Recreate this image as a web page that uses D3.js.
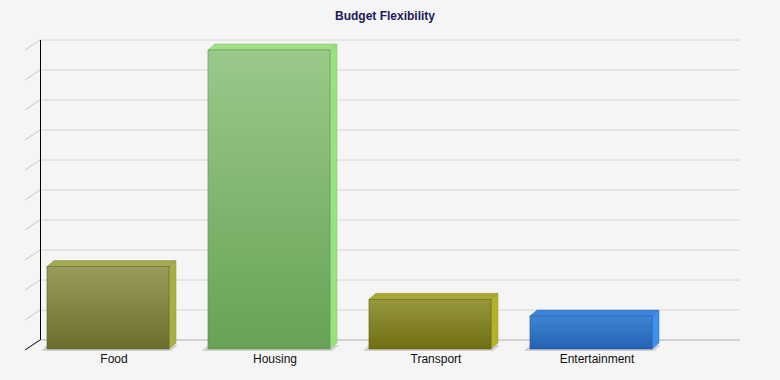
<!DOCTYPE html>
<html><head><meta charset="utf-8">
<script src="https://cdn.jsdelivr.net/npm/d3@7"></script>
<style>html,body{margin:0;padding:0;background:#f5f5f5;}svg{display:block;}</style>
</head><body>
<svg id="c" width="780" height="380"></svg>
<script>
const categories = ["Food", "Housing", "Transport", "Entertainment"];
const values = [27.8, 100, 16.9, 11.3];
const frontColors = [["#9a9c5e", "#6b6e2c"], ["#9bc98a", "#66a356"], ["#97973e", "#6f6e12"], ["#3d85d4", "#2462b3"]];
const sideColors = ["#a8b043", "#96e47f", "#b2b22c", "#3d8ff0"];
const topColors = ["#a2aa52", "#a0e084", "#a8a838", "#3a84de"];
const gridTicks = d3.range(0, 101, 10);
const title = "Budget Flexibility";

const svg = d3.select("#c");
const defs = svg.append("defs");
const dx = 15, dy = 10;       // wall depth
const bdx = 7, bdy = 6;       // bar depth
const x = d3.scaleBand().domain(categories).range([27.5, 671.5]).paddingInner(0.242).paddingOuter(0.121);
const y = d3.scaleLinear().domain([0, 100]).range([350, 50]);

svg.append("rect").attr("width", 780).attr("height", 380).attr("fill", "#f5f5f5");

svg.append("text").attr("x", 385).attr("y", 20).attr("text-anchor", "middle")
  .attr("font-family", "'Liberation Sans', Arial, sans-serif").attr("font-weight", "bold")
  .attr("font-size", 12).attr("fill", "#1c1a5c").text(title);

// gridlines on back wall
svg.append("g").selectAll("line").data(gridTicks.slice(1)).join("line")
  .attr("x1", 40).attr("x2", 740)
  .attr("y1", d => y(d) - dy).attr("y2", d => y(d) - dy)
  .attr("stroke", "#d6d6d6").attr("stroke-width", 1);
// floor back line
svg.append("line").attr("x1", 40).attr("x2", 740).attr("y1", y(0) - dy).attr("y2", y(0) - dy)
  .attr("stroke", "#b0b0b0");
// diagonal ticks on side wall
svg.append("g").selectAll("line").data(gridTicks.slice(1)).join("line")
  .attr("x1", 40 - dx).attr("y1", d => y(d)).attr("x2", 40).attr("y2", d => y(d) - dy)
  .attr("stroke", "#c8c8c8");
svg.append("line").attr("x1", 40 - dx).attr("y1", y(0)).attr("x2", 40).attr("y2", y(0) - dy)
  .attr("stroke", "#000");
// vertical axis line
svg.append("line").attr("x1", 40.5).attr("x2", 40.5).attr("y1", y(100) - dy).attr("y2", y(0) - dy)
  .attr("stroke", "#000");

categories.forEach((c, i) => {
  const g = defs.append("linearGradient").attr("id", "g" + i).attr("x1", 0).attr("y1", 0).attr("x2", 0).attr("y2", 1);
  g.append("stop").attr("offset", 0).attr("stop-color", frontColors[i][0]);
  g.append("stop").attr("offset", 1).attr("stop-color", frontColors[i][1]);
});

const bars = svg.append("g").selectAll("g").data(categories).join("g");
const bx = d => x(d), bw = x.bandwidth();
const base = y(0) - 1;
// shadow
bars.append("polygon").attr("fill", "#d2d2d2").attr("points", (d) => {
  const x0 = bx(d), x1 = x0 + bw;
  return [[x0 - 6, base + 2], [x1 + 2, base + 2], [x1 + bdx + 2, base - bdy + 2], [x0, base - bdy + 2]].map(p => p.join(",")).join(" ");
});
// side
bars.append("polygon").attr("fill", (d, i) => sideColors[i]).attr("stroke", (d, i) => d3.color(sideColors[i]).darker(0.4)).attr("stroke-width", 0.5)
  .attr("points", (d, i) => {
    const x1 = bx(d) + bw, yt = y(values[i]);
    return [[x1, yt], [x1 + bdx, yt - bdy], [x1 + bdx, base - bdy], [x1, base]].map(p => p.join(",")).join(" ");
  });
// top
bars.append("polygon").attr("fill", (d, i) => topColors[i]).attr("stroke", (d, i) => d3.color(topColors[i]).darker(0.5)).attr("stroke-width", 0.5)
  .attr("points", (d, i) => {
    const x0 = bx(d), x1 = x0 + bw, yt = y(values[i]);
    return [[x0, yt], [x0 + bdx, yt - bdy], [x1 + bdx, yt - bdy], [x1, yt]].map(p => p.join(",")).join(" ");
  });
// front
bars.append("rect").attr("x", d => bx(d)).attr("width", bw)
  .attr("y", (d, i) => y(values[i])).attr("height", (d, i) => base - y(values[i]))
  .attr("fill", (d, i) => `url(#g${i})`).attr("stroke", (d, i) => d3.color(frontColors[i][1]).darker(0.3)).attr("stroke-width", 0.6);

// category labels
svg.append("g").selectAll("text").data(categories).join("text")
  .attr("x", d => x(d) + bw / 2 + 6).attr("y", 363).attr("text-anchor", "middle")
  .attr("font-family", "'Liberation Sans', Arial, sans-serif").attr("font-size", 12).attr("fill", "#111")
  .text(d => d);
</script>
</body></html>
